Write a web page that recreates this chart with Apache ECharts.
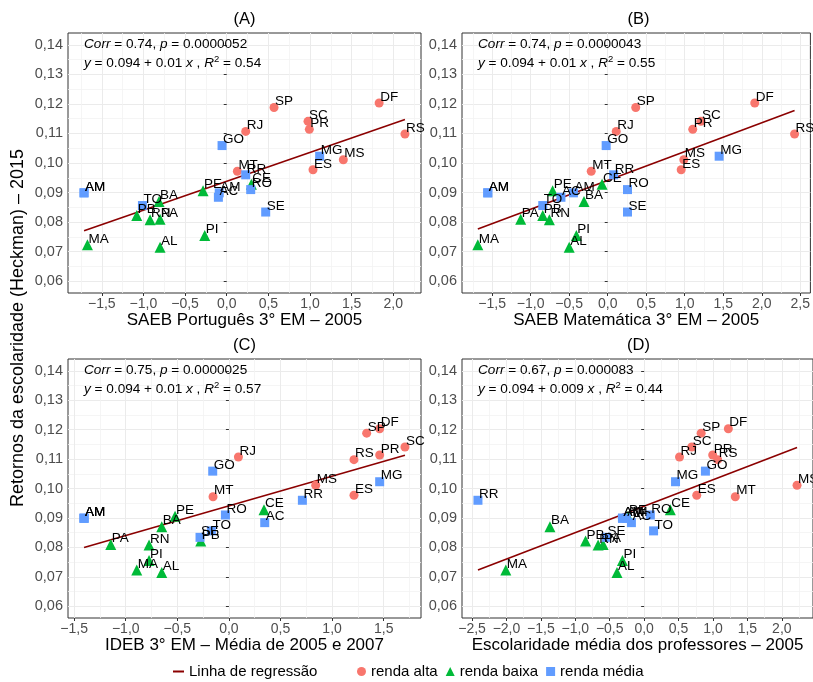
<!DOCTYPE html>
<html><head><meta charset="utf-8">
<script src="https://cdn.jsdelivr.net/npm/echarts@6/dist/echarts.min.js"></script>
<style>html,body{margin:0;padding:0;background:#fff}#c{width:813px;height:682px}</style>
</head><body><div id="c"></div>
<script>
// ---- data ----
const states  = ['AC','AL','AM','AM','AM','BA','CE','DF','ES','GO','MA','MG','MS','MT','PA','PB','PE','PI','PR','RJ','RN','RO','RR','RS','SC','SE','SP','TO'];
const grupo   = ['renda média','renda baixa','renda média','renda média','renda média','renda baixa','renda baixa','renda alta','renda alta','renda média','renda baixa','renda média','renda alta','renda alta','renda baixa','renda baixa','renda baixa','renda baixa','renda alta','renda alta','renda baixa','renda média','renda média','renda alta','renda alta','renda média','renda alta','renda média'];
const retorno = [0.0884,0.0715,0.0899,0.0899,0.0899,0.0870,0.0928,0.1203,0.0977,0.1059,0.0723,0.1023,0.1011,0.0972,0.0810,0.0822,0.0906,0.0755,0.1114,0.1107,0.0808,0.0910,0.0960,0.1098,0.1141,0.0834,0.1188,0.0856];
const xSaebPort = [-0.10,-0.80,-1.713,-1.713,-0.09,-0.813,0.296,1.83,1.036,-0.056,-1.672,1.116,1.40,0.128,-0.80,-1.08,-0.284,-0.264,0.992,0.228,-0.92,0.288,0.228,2.14,0.976,0.468,0.568,-1.012];
const xSaebMat  = [-0.607,-0.50,-1.557,-1.557,-0.445,-0.308,-0.073,1.909,0.954,-0.02,-1.686,1.447,0.988,-0.214,-1.13,-0.843,-0.715,-0.407,1.104,0.111,-0.757,0.257,0.077,2.426,1.21,0.257,0.364,-0.843];
const xIdeb     = [0.347,-0.651,-1.404,-1.404,-1.404,-0.651,0.34,1.461,1.212,-0.157,-0.893,1.461,0.841,-0.154,-1.145,-0.273,-0.522,-0.774,1.461,0.092,-0.774,-0.034,0.712,1.212,1.706,-0.28,1.335,-0.17];
const xEscProf  = [-0.185,-0.394,-0.315,-0.315,-0.26,-1.368,0.38,1.223,0.764,0.89,-2.009,0.456,2.221,1.324,-0.596,-0.851,-0.235,-0.315,0.996,0.514,-0.668,0.09,-2.414,1.068,0.692,-0.547,0.828,0.137];
const panelTitles = ['(A)','(B)','(C)','(D)'];
const xTitles = ['SAEB Português 3° EM – 2005','SAEB Matemática 3° EM – 2005','IDEB 3° EM – Média de 2005 e 2007','Escolaridade média dos professores – 2005'];
const yTitle = 'Retornos da escolaridade (Heckman) – 2015';
const corrTxt = ['0.74','0.74','0.75','0.67'];
const pTxt = ['0.0000052','0.0000043','0.0000025','0.000083'];
const coefTxt = ['0.01','0.01','0.01','0.009'];
const r2Txt = ['0.54','0.55','0.57','0.44'];
const intercepts = [0.0938,0.0941,0.0941,0.0940];
const slopes = [0.00979,0.00975,0.0101,0.00898];
const yMajor = [0.06,0.07,0.08,0.09,0.10,0.11,0.12,0.13,0.14];
const yMinor = [0.065,0.075,0.085,0.095,0.105,0.115,0.125,0.135];
const xMajorA = [-1.5,-1,-0.5,0,0.5,1,1.5,2];
const xMinorA = [-1.75,-1.25,-0.75,-0.25,0.25,0.75,1.25,1.75,2.25];
const xMajorB = [-1.5,-1,-0.5,0,0.5,1,1.5,2,2.5];
const xMinorB = [-1.75,-1.25,-0.75,-0.25,0.25,0.75,1.25,1.75,2.25];
const xMajorC = [-1.5,-1,-0.5,0,0.5,1,1.5];
const xMinorC = [-1.25,-0.75,-0.25,0.25,0.75,1.25,1.75];
const xMajorD = [-2.5,-2,-1.5,-1,-0.5,0,0.5,1,1.5,2];
const xMinorD = [-2.25,-1.75,-1.25,-0.75,-0.25,0.25,0.75,1.25,1.75,2.25];
const groups = ['renda alta','renda baixa','renda média'];
const groupColors = ['#F8766D','#00BA38','#619CFF'];
const groupSymbols = ['circle','triangle','rect'];
const groupSizes = [9,11,9];

// ---- chart ----
const FONT = '"Liberation Sans", Arial, sans-serif';
const xs = [xSaebPort, xSaebMat, xIdeb, xEscProf];
const xMaj = [xMajorA, xMajorB, xMajorC, xMajorD];
const xMin = [xMinorA, xMinorB, xMinorC, xMinorD];
const gridsPos = [
  {left:68, top:33, width:353, height:260},
  {left:462, top:33, width:353, height:260},
  {left:68, top:359, width:353, height:259},
  {left:462, top:359, width:353, height:259}
];
const fmtX = v => Math.abs(v) < 1e-9 ? '0,0' : v.toFixed(1).replace('.', ',').replace('-', '\u2212');
const fmtY = v => v.toFixed(2).replace('.', ',');

const grid = [], xAxis = [], yAxis = [], series = [], graphic = [];
for (let i = 0; i < 4; i++) {
  const g = gridsPos[i];
  grid.push(Object.assign({show:true, borderColor:'#333333', borderWidth:1, backgroundColor:'rgba(0,0,0,0)'}, g));
  const xv = xs[i];
  const lo = Math.min(...xv), hi = Math.max(...xv), ex = (hi - lo) * 0.05;
  const yLo = 0.056, yHi = 0.144;
  xAxis.push({
    type:'value', gridIndex:i, min:lo - ex, max:hi + ex, position:'bottom',
    axisLine:{show:false},
    axisTick:{show:true, length:3, lineStyle:{color:'#333333'}, customValues:xMaj[i]},
    axisLabel:{customValues:xMaj[i], formatter:fmtX, color:'#4d4d4d', fontSize:14, margin:4, fontFamily:FONT},
    splitLine:{show:true, lineStyle:{color:'#ebebeb', width:1}},
    name:xTitles[i], nameLocation:'middle', nameGap:18,
    nameTextStyle:{fontSize:17, color:'#000', fontFamily:FONT}
  });
  xAxis.push({
    type:'value', gridIndex:i, min:lo - ex, max:hi + ex, position:'top',
    axisLine:{show:false}, axisTick:{show:false, customValues:xMin[i]},
    axisLabel:{show:false}, splitLine:{show:true, lineStyle:{color:'#f3f3f3', width:0.8}}
  });
  yAxis.push({
    type:'value', gridIndex:i, min:yLo, max:yHi, position:'left',
    axisLine:{show:false},
    axisTick:{show:true, length:3, lineStyle:{color:'#333333'}, customValues:yMajor},
    axisLabel:{customValues:yMajor, formatter:fmtY, color:'#4d4d4d', fontSize:14.5, margin:5, fontFamily:FONT},
    splitLine:{show:true, lineStyle:{color:'#ebebeb', width:1}}
  });
  yAxis.push({
    type:'value', gridIndex:i, min:yLo, max:yHi, position:'right',
    axisLine:{show:false}, axisTick:{show:false, customValues:yMinor},
    axisLabel:{show:false}, splitLine:{show:true, lineStyle:{color:'#f3f3f3', width:0.8}}
  });
  // regression line
  series.push({
    type:'line', name:'Linha de regressão', xAxisIndex:2*i, yAxisIndex:2*i,
    data:[[lo, intercepts[i] + slopes[i]*lo], [hi, intercepts[i] + slopes[i]*hi]],
    symbol:'none', lineStyle:{color:'#8B0000', width:1.6}, itemStyle:{color:'#8B0000'},
    silent:true, z:2
  });
  groups.forEach((gr, k) => {
    const data = [];
    states.forEach((s, j) => { if (grupo[j] === gr) data.push({name:s, value:[xv[j], retorno[j]]}); });
    series.push({
      type:'scatter', name:gr, xAxisIndex:2*i, yAxisIndex:2*i, data,
      symbol:groupSymbols[k], symbolSize:groupSizes[k],
      itemStyle:{color:groupColors[k], opacity:1},
      label:{show:true, formatter:'{b}', position:'inside', align:'left', verticalAlign:'middle',
             offset:[1,-6], color:'#000', fontSize:13.5, fontFamily:FONT},
      emphasis:{disabled:true}, z:3
    });
  });
  // panel title
  const cx = g.left + g.width / 2;
  graphic.push({type:'text', z:100, x:cx, y:g.top - 14, style:{text:panelTitles[i], font:'16.5px ' + FONT, fill:'#000', align:'center', verticalAlign:'middle'}});
  // annotations
  const rich = {
    i:{fontStyle:'italic', fontSize:13.6, fontFamily:FONT, fill:'#000'},
    n:{fontSize:13.6, fontFamily:FONT, fill:'#000'},
    s:{fontSize:9.5, fontFamily:FONT, fill:'#000', padding:[0,0,7,0]}
  };
  graphic.push({type:'text', z:100, x:g.left + 16, y:g.top + 11, style:{
    text:'{i|Corr}{n| = ' + corrTxt[i] + ', }{i|p}{n| = ' + pTxt[i] + '}',
    rich, font:'13.6px ' + FONT, fill:'#000', align:'left', verticalAlign:'middle'}});
  graphic.push({type:'text', z:100, x:g.left + 16, y:g.top + 30, style:{
    text:'{i|y}{n| = 0.094 + ' + coefTxt[i] + ' }{i|x}{n| , }{i|R}{s|2}{n| = ' + r2Txt[i] + '}',
    rich, font:'13.6px ' + FONT, fill:'#000', align:'left', verticalAlign:'middle'}});
}
graphic.push({type:'text', z:100, x:18, y:328, rotation:Math.PI/2,
  style:{text:yTitle, font:'18px ' + FONT, fill:'#000', align:'center', verticalAlign:'middle'}});

const chart = echarts.init(document.getElementById('c'), null, {renderer:'canvas'});
chart.setOption({
  animation:false,
  backgroundColor:'#ffffff',
  textStyle:{fontFamily:FONT},
  grid, xAxis, yAxis, series, graphic,
  legend:[
    {data:[{name:'Linha de regressão', icon:'rect'}], left:168, top:659, itemWidth:11, itemHeight:2,
     itemGap:10, textStyle:{fontSize:15, color:'#000', fontFamily:FONT}, selectedMode:false},
    {data:[{name:'renda alta', icon:'circle'}, {name:'renda baixa', icon:'triangle'}, {name:'renda média', icon:'rect'}],
     left:352, top:659, itemWidth:9, itemHeight:9, itemGap:8,
     textStyle:{fontSize:15, color:'#000', fontFamily:FONT}, selectedMode:false}
  ]
});
</script></body></html>
